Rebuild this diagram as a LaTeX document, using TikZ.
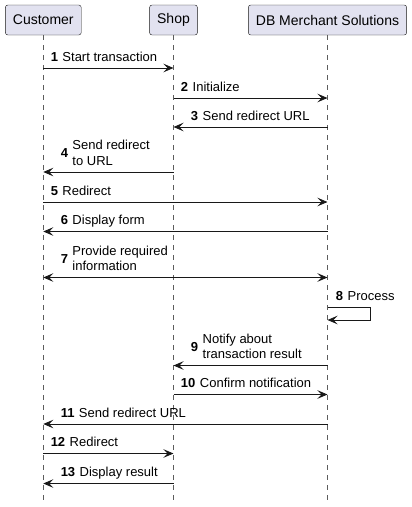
\documentclass[tikz,border=0pt]{standalone}
\usepackage{fontspec}
\setmainfont{Liberation Sans}
\usepackage{tikz}
\usetikzlibrary{arrows.meta,positioning}
\definecolor{partfill}{HTML}{E2E2F0}
\definecolor{ink}{HTML}{181818}
\tikzstyle{part} = [rectangle, rounded corners=2.5pt, draw=ink, fill=partfill,
                    minimum height=30pt, inner xsep=7.6pt, font={\fontsize{14}{16}\selectfont}]
\tikzstyle{life} = [draw=ink!70, line width=0.7pt, dash pattern=on 5pt off 5pt]
\tikzstyle{msg} = [draw=ink, line width=0.9pt, -{Stealth[length=10pt,width=8.5pt,inset=4pt]}]
\tikzstyle{both} = [draw=ink, line width=0.9pt, {Stealth[length=10pt,width=8.5pt,inset=4pt]}-{Stealth[length=10pt,width=8.5pt,inset=4pt]}]
\tikzstyle{lbl} = [anchor=south west, inner sep=0pt, yshift=1.5pt,
                   font={\fontsize{13}{15.5}\selectfont}]
\tikzstyle{lblR} = [lbl, pos=0, xshift=7pt]
\tikzstyle{lblL} = [lbl, pos=1, xshift=17pt]
\newcommand{\msgtext}[2]{\textbf{#1}\hspace{4.5pt}\begin{tabular}{@{}l@{}}#2\end{tabular}}
\begin{document}
\begin{tikzpicture}[x=1pt, y=-1pt]
      \useasboundingbox (0,0) rectangle (412,507);
      % participants
      \node [part] at (43.3,20) (cust) {Customer};
      \node [part] at (173.5,20) (shop) {Shop};
      \node [part] at (327.5,20) (db) {DB Merchant Solutions};
      \coordinate (custEnd) at (43.3,501);
      \coordinate (shopEnd) at (173.5,501);
      \coordinate (dbEnd) at (327.5,501);
      \path [life] (cust) -- (custEnd);
      \path [life] (shop) -- (shopEnd);
      \path [life] (db) -- (dbEnd);
      % messages
      \path [msg] (cust |- 0,68) -- (shop |- 0,68)
        node [lblR] {\msgtext{1}{Start transaction}};
      \path [msg] (shop |- 0,98) -- (db |- 0,98)
        node [lblR] {\msgtext{2}{Initialize}};
      \path [msg] (db |- 0,127) -- (shop |- 0,127)
        node [lblL] {\msgtext{3}{Send redirect URL}};
      \path [msg] (shop |- 0,172) -- (cust |- 0,172)
        node [lblL] {\msgtext{4}{Send redirect\\to URL}};
      \path [msg] (cust |- 0,202) -- (db |- 0,202)
        node [lblR] {\msgtext{5}{Redirect}};
      \path [msg] (db |- 0,231.5) -- (cust |- 0,231.5)
        node [lblL] {\msgtext{6}{Display form}};
      \path [both] (cust |- 0,277.5) -- (db |- 0,277.5)
        node [lblR, xshift=10pt] {\msgtext{7}{Provide required\\information}};
      \path [msg] (db |- 0,307) node [lbl, xshift=8pt] {\msgtext{8}{Process}}
        -- ++(43,0) -- ++(0,13) -- (db |- 0,320);
      \path [msg] (db |- 0,365.5) -- (shop |- 0,365.5)
        node [lblL] {\msgtext{9}{Notify about\\transaction result}};
      \path [msg] (shop |- 0,394.5) -- (db |- 0,394.5)
        node [lblR] {\msgtext{10}{Confirm notification}};
      \path [msg] (db |- 0,424) -- (cust |- 0,424)
        node [lblL] {\msgtext{11}{Send redirect URL}};
      \path [msg] (cust |- 0,453.5) -- (shop |- 0,453.5)
        node [lblR] {\msgtext{12}{Redirect}};
      \path [msg] (shop |- 0,483.5) -- (cust |- 0,483.5)
        node [lblL] {\msgtext{13}{Display result}};
    \end{tikzpicture}
\end{document}
